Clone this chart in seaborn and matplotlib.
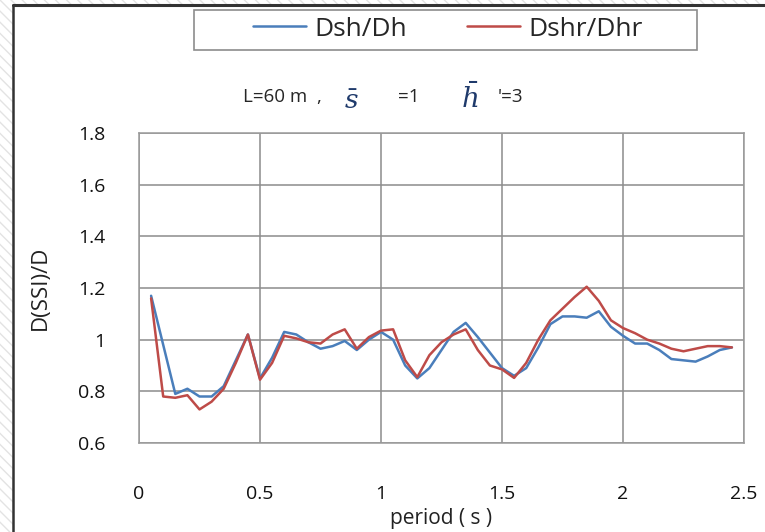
import numpy as np
import pandas as pd
import matplotlib
matplotlib.use("Agg")
import matplotlib.pyplot as plt
import seaborn as sns
from matplotlib.patches import Rectangle

# period (s)
period = [0.05, 0.10, 0.15, 0.20, 0.25, 0.30, 0.35, 0.40, 0.45, 0.50,
          0.55, 0.60, 0.65, 0.70, 0.75, 0.80, 0.85, 0.90, 0.95, 1.00,
          1.05, 1.10, 1.15, 1.20, 1.25, 1.30, 1.35, 1.40, 1.45, 1.50,
          1.55, 1.60, 1.65, 1.70, 1.75, 1.80, 1.85, 1.90, 1.95, 2.00,
          2.05, 2.10, 2.15, 2.20, 2.25, 2.30, 2.35, 2.40, 2.45]

dsh_dh = [1.17, 0.98, 0.79, 0.81, 0.78, 0.78, 0.82, 0.92, 1.02, 0.85,
          0.93, 1.03, 1.02, 0.99, 0.965, 0.975, 0.995, 0.96, 1.00, 1.03,
          1.00, 0.90, 0.85, 0.89, 0.96, 1.03, 1.065, 1.01, 0.95, 0.89,
          0.86, 0.89, 0.97, 1.06, 1.09, 1.09, 1.085, 1.11, 1.05, 1.015,
          0.985, 0.985, 0.96, 0.925, 0.92, 0.915, 0.935, 0.96, 0.97]

dshr_dhr = [1.16, 0.78, 0.775, 0.785, 0.73, 0.76, 0.81, 0.91, 1.02, 0.845,
            0.91, 1.015, 1.005, 0.99, 0.985, 1.02, 1.04, 0.965, 1.01, 1.035,
            1.04, 0.92, 0.855, 0.94, 0.99, 1.02, 1.04, 0.96, 0.90, 0.885,
            0.852, 0.91, 1.00, 1.075, 1.12, 1.165, 1.205, 1.15, 1.075, 1.045,
            1.025, 1.0, 0.985, 0.965, 0.955, 0.965, 0.975, 0.975, 0.97]

x_ticks = [0, 0.5, 1, 1.5, 2, 2.5]
x_labels = ["0", "0.5", "1", "1.5", "2", "2.5"]
y_ticks = [0.6, 0.8, 1.0, 1.2, 1.4, 1.6, 1.8]
y_labels = ["0.6", "0.8", "1", "1.2", "1.4", "1.6", "1.8"]

df = pd.DataFrame({
    "period": period * 2,
    "ratio": dsh_dh + dshr_dhr,
    "series": ["Dsh/Dh"] * len(period) + ["Dshr/Dhr"] * len(period),
})

sns.set_style("white")
plt.rcParams["font.family"] = ["Open Sans", "DejaVu Sans"]

fig = plt.figure(figsize=(7.65, 5.32), dpi=100)
ax = fig.add_axes([139 / 765, 89 / 532, 605 / 765, 310 / 532])

sns.lineplot(data=df, x="period", y="ratio", hue="series",
             palette={"Dsh/Dh": "#4a7ebb", "Dshr/Dhr": "#be4b48"},
             linewidth=1.8, ax=ax, legend=False)
for ln in ax.lines:
    ln.set_solid_joinstyle("round")

ax.set_xlim(0, 2.5)
ax.set_ylim(0.6, 1.8)
ax.set_xticks(x_ticks)
ax.set_xticklabels(x_labels)
ax.set_yticks(y_ticks)
ax.set_yticklabels(y_labels)
ax.tick_params(length=0, labelsize=14, labelcolor="#111111")
ax.tick_params(axis="y", pad=24)
ax.tick_params(axis="x", pad=30)
ax.grid(True, color="#8c8c8c", linewidth=1.1)
for s in ax.spines.values():
    s.set_color("#9a9a9a")
    s.set_linewidth(1.1)

ax.set_xlabel("period ( s )", fontsize=15, labelpad=4, color="#222222")
ax.set_ylabel("D(SSI)/D", fontsize=16, labelpad=20, color="#222222")

# legend box drawn separately so it matches the wide frame
fig.patches.append(Rectangle((194 / 765, 1 - 50 / 532), 503 / 765, 40 / 532,
                             transform=fig.transFigure, facecolor="white",
                             edgecolor="#8c8c8c", linewidth=1.2, zorder=1))
handles = [plt.Line2D([], [], color="#4a7ebb", lw=1.8),
           plt.Line2D([], [], color="#be4b48", lw=1.8)]
leg = fig.legend(handles, ["Dsh/Dh", "Dshr/Dhr"], ncol=2,
                 loc="center", bbox_to_anchor=(448 / 765, 1 - 29 / 532),
                 fontsize=19, frameon=False,
                 handlelength=2.0, handletextpad=0.3, columnspacing=2.3)

# parameter note
ty = 1 - 97 / 532
fig.text(243 / 765, ty, "L=60 m  ,", fontsize=13.5, va="center")
fig.text(344 / 765, ty - 0.01, r"$\bar{s}$", fontsize=19, va="center",
         color="#1f3a6b", math_fontfamily="dejavuserif")
fig.text(398 / 765, ty, "=1", fontsize=13.5, va="center")
fig.text(461 / 765, ty - 0.006, r"$\bar{h}$", fontsize=20, va="center",
         color="#1f3a6b", math_fontfamily="dejavuserif")
fig.text(498 / 765, ty, "'=3", fontsize=13.5, va="center")

# outer frame with hatched margin
fig.patches.append(Rectangle((0, 0), 13 / 765, 1, transform=fig.transFigure,
                             facecolor="white", edgecolor="#e3e3e3",
                             hatch="\\\\\\", linewidth=0, zorder=0))
fig.patches.append(Rectangle((0, 1 - 5 / 532), 1, 5 / 532, transform=fig.transFigure,
                             facecolor="white", edgecolor="#e3e3e3",
                             hatch="\\\\\\", linewidth=0, zorder=0))
fig.add_artist(plt.Line2D([13 / 765, 13 / 765], [0, 1 - 5 / 532],
                          transform=fig.transFigure, color="#333333", lw=1.8))
fig.add_artist(plt.Line2D([13 / 765, 1], [1 - 5 / 532, 1 - 5 / 532],
                          transform=fig.transFigure, color="#333333", lw=2.2))

fig.savefig("out.png", dpi=100)
